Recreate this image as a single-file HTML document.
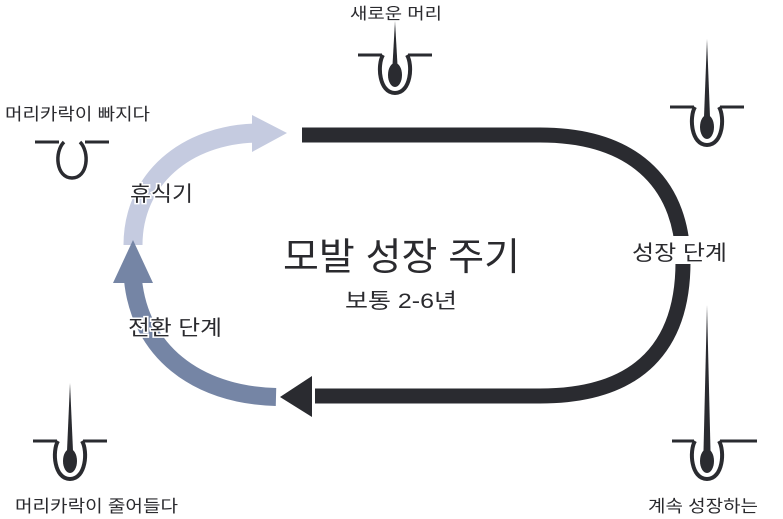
<!DOCTYPE html>
<html><head><meta charset="utf-8"><style>
html,body{margin:0;padding:0;background:#fff;}
svg{display:block;}
text{font-family:"Liberation Sans","Noto Sans CJK KR",sans-serif;fill:#2a2a2e;}
</style></head><body>
<svg width="783" height="519" viewBox="0 0 783 519" xmlns="http://www.w3.org/2000/svg">
<defs>
<g id="fol">
<path d="M-12,0 C-18,10 -16,38 0,38 C16,38 18,10 12,0" stroke="#2a2b30" stroke-width="4" fill="#fff"/>
<ellipse cx="0" cy="20" rx="7" ry="12" fill="#2a2b30"/>
</g>
</defs>

<path d="M302,135 H540 C640,135 683,190 683,262 C683,345 640,396 540,396 H315" stroke="#2a2b30" stroke-width="15" fill="none"/>
<polygon points="280,397 312,376 312,417" fill="#2a2b30"/>

<path d="M133,245 C133,180 185,134 258,133" stroke="#c5cbe0" stroke-width="19" fill="none"/>
<polygon points="287,133 252,115 252,152" fill="#c5cbe0"/>

<path d="M276,397 C195,395 140,350 133,280" stroke="#7585a5" stroke-width="18" fill="none"/>
<polygon points="133,240 113,283 153,283" fill="#7585a5"/>

<g transform="translate(395,55)"><path d="M-37,0 H-13 M13,0 H37" stroke="#2a2b30" stroke-width="3"/><use href="#fol"/><polygon points="-2.5,10 0,-34 2.5,10" fill="#2a2b30"/></g>
<g transform="translate(707,107)"><path d="M-37,0 H-13 M13,0 H37" stroke="#2a2b30" stroke-width="3"/><use href="#fol"/><polygon points="-3,10 0,-68 3,10" fill="#2a2b30"/></g>
<g transform="translate(70,441)"><path d="M-37,0 H-13 M13,0 H37" stroke="#2a2b30" stroke-width="3"/><use href="#fol"/><polygon points="-3,10 0,-58 3,10" fill="#2a2b30"/></g>
<g transform="translate(707,441)"><path d="M-35,0 H-13 M13,0 H50" stroke="#2a2b30" stroke-width="3"/><use href="#fol"/><polygon points="-3.5,10 0,-136 3.5,10" fill="#2a2b30"/></g>
<g transform="translate(72,142)"><path d="M-37,0 H-13 M13,0 H37" stroke="#2a2b30" stroke-width="3"/><path d="M-8,0 C-18,10 -16,36 0,36 C16,36 18,10 8,0" stroke="#2a2b30" stroke-width="3.5" fill="none"/></g>

<text x="350" y="19" font-size="16" textLength="92" lengthAdjust="spacingAndGlyphs">새로운 머리</text>
<text x="5" y="120" font-size="17" textLength="145" lengthAdjust="spacingAndGlyphs">머리카락이 빠지다</text>
<text x="15" y="512" font-size="17" textLength="163" lengthAdjust="spacingAndGlyphs">머리카락이 줄어들다</text>
<text x="648" y="512" font-size="17" textLength="110" lengthAdjust="spacingAndGlyphs">계속 성장하는</text>
<rect x="630" y="236" width="98" height="28" fill="#fff"/>
<text x="632" y="260" font-size="21" textLength="95" lengthAdjust="spacingAndGlyphs">성장 단계</text>
<text x="130" y="201" font-size="21" textLength="63" lengthAdjust="spacingAndGlyphs" stroke="#fff" stroke-width="3" paint-order="stroke">휴식기</text>
<text x="128" y="335" font-size="21" textLength="94" lengthAdjust="spacingAndGlyphs" stroke="#fff" stroke-width="3" paint-order="stroke">전환 단계</text>
<text x="283" y="270" font-size="38" textLength="237" lengthAdjust="spacingAndGlyphs">모발 성장 주기</text>
<text x="345" y="308" font-size="21" textLength="112" lengthAdjust="spacingAndGlyphs">보통 2-6년</text>
</svg>
</body></html>
